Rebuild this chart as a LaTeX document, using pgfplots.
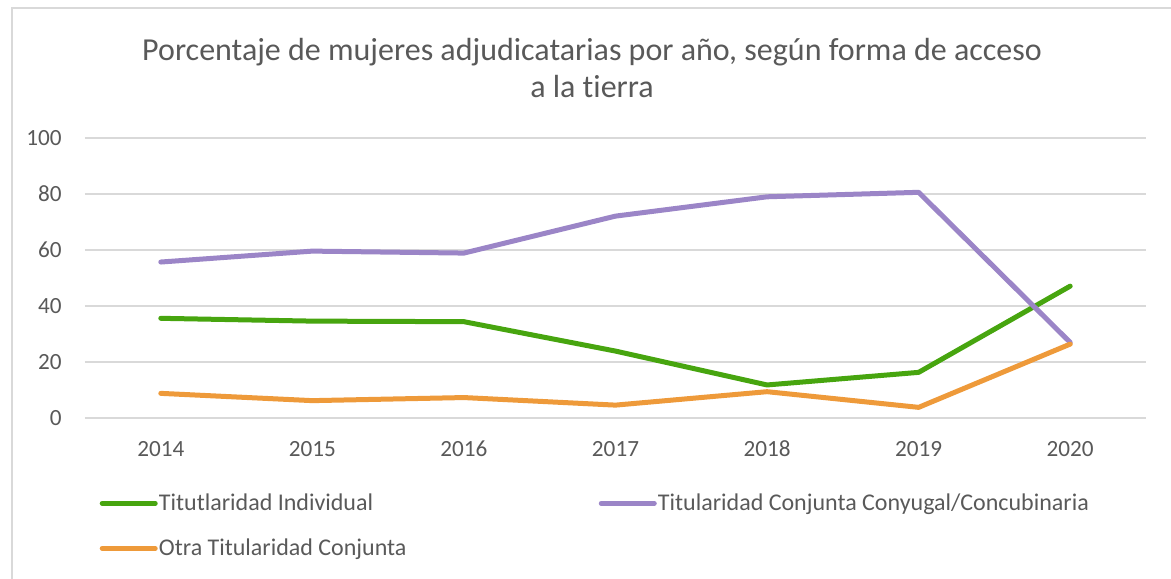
\documentclass[border=0pt]{standalone}
\usepackage{fontspec}
\setmainfont{Carlito}[Ligatures={NoCommon}]
\usepackage{pgfplots}
\pgfplotsset{compat=1.18}
\definecolor{verde}{HTML}{47A50F}
\definecolor{lila}{HTML}{9B85C7}
\definecolor{naranja}{HTML}{EE9A3A}
\definecolor{rejilla}{HTML}{D9D9D9}
\definecolor{texto}{HTML}{595959}

\begin{document}
\begin{tikzpicture}
% 1 px of the reference = 0.5pt
\path[use as bounding box] (0,0) rectangle (585.5pt,289pt);
\draw[rejilla, line width=0.75pt] (6pt,-5pt) rectangle (590pt,285pt);
\node[anchor=base, text=texto, font=\fontsize{16}{18}\selectfont] at (296pt,258.5pt)
    {Porcentaje de mujeres adjudicatarias por año, según forma de acceso};
\node[anchor=base, text=texto, font=\fontsize{16}{18}\selectfont] at (296pt,240pt)
    {a la tierra};
\begin{axis}[
    at={(42.5pt,80pt)}, anchor=south west,
    scale only axis,
    width=530.5pt, height=140pt,
    xmin=-0.5, xmax=6.5,
    ymin=0, ymax=100,
    xtick={0,...,6},
    xticklabels={2014,2015,2016,2017,2018,2019,2020},
    ytick={0,20,...,100},
    axis line style={draw=none},
    major tick length=0pt,
    ymajorgrids=true,
    grid style={rejilla, line width=0.9pt},
    tick label style={text=texto, font=\fontsize{11.6}{13}\selectfont},
    /pgf/number format/assume math mode=true,
    xticklabel style={anchor=base, inner sep=0pt, yshift=-19pt},
    yticklabel style={anchor=east, inner sep=0pt, xshift=-11.5pt},
    every axis plot/.append style={line width=2.5pt, line cap=round, line join=round, mark=none},
    legend image code/.code={\draw[#1] (0pt,0pt) -- (26.5pt,0pt);},
    legend columns=2,
    legend cell align=left,
    legend style={at={(0.0135,-0.264)}, anchor=north west, draw=none, fill=none,
        inner sep=0pt, font=\fontsize{12}{14}\selectfont, text=texto,
        row sep=11.5pt,
        nodes={inner sep=0.6pt},
        /tikz/every even column/.append style={column sep=95.5pt}},
]
\addplot[verde] coordinates {
    (0,35.6)(1,34.6)(2,34.4)(3,23.9)(4,11.8)(5,16.3)(6,47.1)
};
\addplot[lila] coordinates {
    (0,55.7)(1,59.6)(2,58.9)(3,72.1)(4,79.0)(5,80.6)(6,27.0)
};
\addplot[naranja] coordinates {
    (0,8.8)(1,6.2)(2,7.3)(3,4.6)(4,9.4)(5,3.8)(6,26.4)
};
\legend{Titutlaridad Individual, Titularidad Conjunta Conyugal/Concubinaria, Otra Titularidad Conjunta}
\end{axis}
\end{tikzpicture}
\end{document}
